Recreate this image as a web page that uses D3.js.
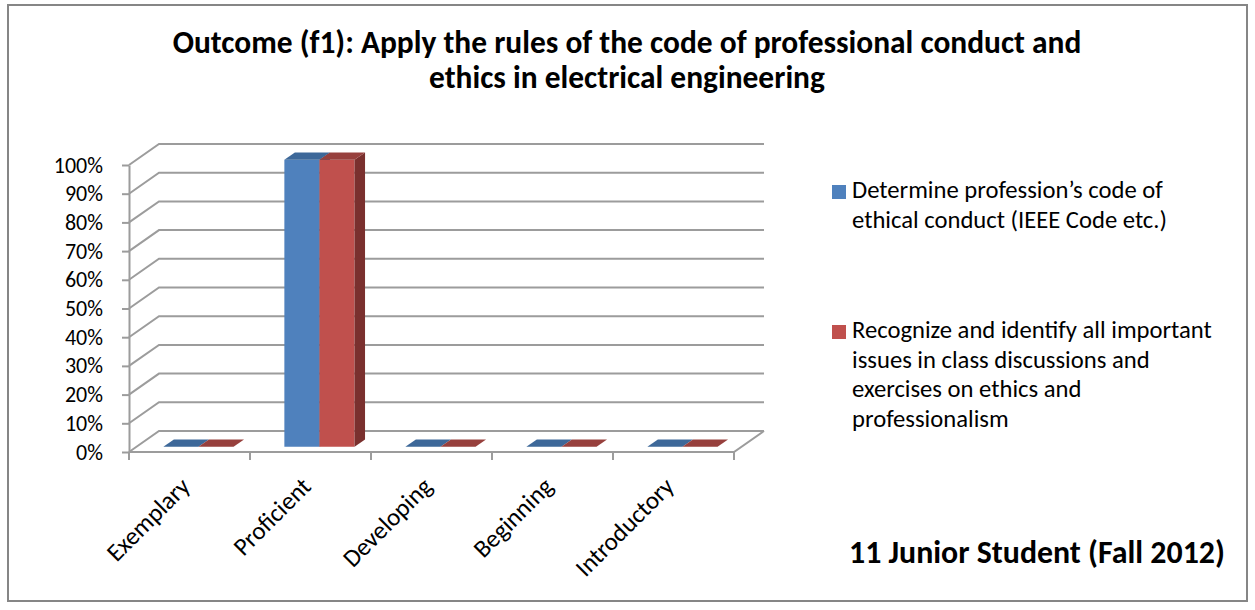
<!DOCTYPE html>
<html>
<head>
<meta charset="utf-8">
<script src="https://cdn.jsdelivr.net/npm/d3@7"></script>
<style>
  body { margin: 0; background: #fff; }
  text { font-family: Carlito, Lato, "Noto Sans", sans-serif; fill: #000; }
</style>
</head>
<body>
<div id="chart"></div>
<script>
// chart data
const categories = ["Exemplary", "Proficient", "Developing", "Beginning", "Introductory"];
const determineValues = [0, 1, 0, 0, 0];
const recognizeValues = [0, 1, 0, 0, 0];
const yTicks = [0, 0.1, 0.2, 0.3, 0.4, 0.5, 0.6, 0.7, 0.8, 0.9, 1];
const titleLines = ["Outcome (f1): Apply the rules of the code of professional conduct and",
                    "ethics in electrical engineering"];
const legendLines = [["Determine profession\u2019s code of", "ethical conduct (IEEE Code etc.)"],
                     ["Recognize and identify all important", "issues in class discussions and",
                      "exercises on ethics and", "professionalism"]];
const noteText = "11 Junior Student (Fall 2012)";

const W = 1255, H = 610;
const colors = ["#4F81BD", "#C0504D"];
const tops = ["#3D6899", "#97403D"];
const sides = ["#375E8C", "#7A302E"];

// 3d depth offset of the back wall
const depthX = 30, depthY = -21;
const barZ0 = 0.25, barZ1 = 0.6;

const svg = d3.select("#chart").append("svg")
  .attr("width", W).attr("height", H);

// outer border
svg.append("rect")
  .attr("x", 8).attr("y", 5).attr("width", 1239).attr("height", 596)
  .attr("fill", "#fff").attr("stroke", "#868686").attr("stroke-width", 2);

// scales
const x = d3.scaleBand().domain(categories).range([129, 734]);
const y = d3.scaleLinear().domain([0, 1]).range([452, 165]);
const pairW = x.bandwidth() * 0.58;
const x1 = d3.scaleBand().domain([0, 1]).range([0, pairW]);

// project a front-plane point to depth z (0 = front, 1 = back)
const P = (px, py, z) => [px + depthX * z, py + depthY * z];
const poly = pts => "M" + pts.map(p => p.join(",")).join("L") + "Z";

const grid = svg.append("g").attr("stroke", "#9C9C9C").attr("stroke-width", 2).attr("fill", "none");
const x0 = x.range()[0], xEnd = x.range()[1];

// back wall gridlines + left wall diagonals
yTicks.forEach(t => {
  const a = P(x0, y(t), 0), b = P(x0, y(t), 1), c = P(xEnd, y(t), 1);
  grid.append("path").attr("d", `M${a}L${b}L${c}`);
});

// floor front edge and right edge
grid.append("path")
  .attr("d", `M${P(x0, y(0), 0)}L${P(xEnd, y(0), 0)}L${P(xEnd, y(0), 1)}`);

// y axis
const yAxis = svg.append("g")
  .attr("transform", `translate(${x0},0)`)
  .call(d3.axisLeft(y).tickValues(yTicks).tickFormat(d3.format(".0%"))
    .tickSize(7).tickSizeOuter(0).tickPadding(19));
yAxis.selectAll("line, path").attr("stroke", "#9C9C9C").attr("stroke-width", 2);
yAxis.selectAll("text").attr("font-size", 22).attr("font-family", "Carlito, Lato, sans-serif").attr("fill", "#000");

// category boundary ticks
const bounds = categories.map(c => x(c)).concat([xEnd]);
grid.selectAll(".xt").data(bounds).join("path")
  .attr("d", d => `M${d},${y(0)}L${d},${y(0) + 8}`);

// bars
const series = [determineValues, recognizeValues];
series.forEach((vals, s) => {
  const g = svg.append("g");
  categories.forEach((c, i) => {
    const left = x(c) + x.bandwidth() * 0.222 + x1(s);
    const right = left + x1.bandwidth();
    const top = y(vals[i]), bot = y(0);
    if (vals[i] > 0) {
      // front face and right side
      g.append("path").attr("fill", colors[s])
        .attr("d", poly([P(left, top, barZ0), P(right, top, barZ0), P(right, bot, barZ0), P(left, bot, barZ0)]));
      g.append("path").attr("fill", sides[s])
        .attr("d", poly([P(right, top, barZ0), P(right, top, barZ1), P(right, bot, barZ1), P(right, bot, barZ0)]));
    }
    // top face
    g.append("path").attr("fill", tops[s])
      .attr("d", poly([P(left, top, barZ0), P(right, top, barZ0), P(right, top, barZ1), P(left, top, barZ1)]));
  });
});

// x labels
svg.append("g").selectAll("text").data(categories).join("text")
  .attr("transform", d => `translate(${x(d) + x.bandwidth() / 2 + 2},${y(0) + 36}) rotate(-45)`)
  .attr("text-anchor", "end")
  .attr("font-size", 25)
  .text(d => d);

// fit text width helper
function fit(sel, w) {
  const n = sel.node(), size = +sel.attr("font-size");
  sel.attr("font-size", size * w / n.getComputedTextLength());
}

// title
const t1 = svg.append("text").attr("x", 627).attr("y", 53).attr("text-anchor", "middle")
  .attr("font-weight", "bold").attr("font-size", 28).text(titleLines[0]);
fit(t1, 909);
svg.append("text").attr("x", 627).attr("y", 88).attr("text-anchor", "middle")
  .attr("font-weight", "bold").attr("font-size", t1.attr("font-size")).text(titleLines[1]);

// legend
const legendY = [198, 338];
const l0 = svg.append("text").attr("font-size", 20).text(legendLines[0][0]);
fit(l0, 311);
const legendSize = l0.attr("font-size");
l0.remove();
legendLines.forEach((lines, s) => {
  svg.append("rect").attr("x", 832).attr("y", legendY[s] - 13).attr("width", 14).attr("height", 14)
    .attr("fill", colors[s]);
  lines.forEach((ln, j) => {
    svg.append("text").attr("x", 852).attr("y", legendY[s] + j * 29.6)
      .attr("font-size", legendSize).text(ln);
  });
});

// note
const nt = svg.append("text").attr("x", 849).attr("y", 563).attr("font-weight", "bold")
  .attr("font-size", 26).text(noteText);
fit(nt, 376);
</script>
</body>
</html>
